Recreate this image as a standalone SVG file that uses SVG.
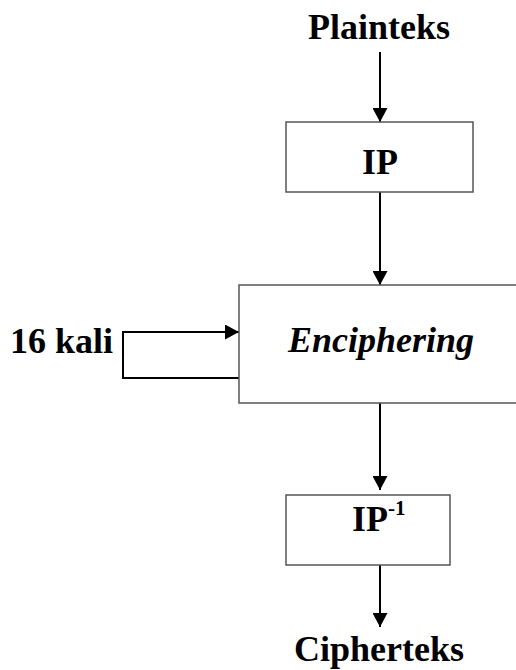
<svg xmlns="http://www.w3.org/2000/svg" width="516" height="670" viewBox="0 0 516 670">
<style>
.box{fill:#fff;stroke:#555;stroke-width:1.5}
.t{font-family:"Liberation Serif","Times New Roman",serif;font-weight:bold;font-size:36px;fill:#000}
.c{stroke:#000;stroke-width:2;fill:none}
</style>
<defs>
<marker id="ah" markerWidth="14" markerHeight="15" refX="14" refY="7.5" orient="auto" markerUnits="userSpaceOnUse">
<path d="M0,0 L14,7.5 L0,15 Z" fill="#000"/>
</marker>
</defs>
<rect width="516" height="670" fill="#fff"/>
<g id="connectors">
<line class="c" x1="380" y1="52" x2="380" y2="122" marker-end="url(#ah)"/>
<line class="c" x1="380" y1="192" x2="380" y2="285" marker-end="url(#ah)"/>
<polyline class="c" points="239,378 123,378 123,332 239,332" marker-end="url(#ah)"/>
<line class="c" x1="380" y1="403" x2="380" y2="490" marker-end="url(#ah)"/>
<line class="c" x1="380" y1="563" x2="380" y2="627" marker-end="url(#ah)"/>
</g>
<g id="plainteks"><text class="t" x="379" y="39" text-anchor="middle">Plainteks</text></g>
<g id="ip"><rect class="box" x="286" y="122" width="187" height="70"/><text class="t" x="380" y="174" text-anchor="middle">IP</text></g>
<g id="enciphering"><rect class="box" x="239" y="285" width="290" height="118"/><text class="t" x="381" y="352" text-anchor="middle" font-style="italic">Enciphering</text></g>
<g id="kali"><text class="t" x="10" y="353">16 kali</text></g>
<g id="ipinv"><rect class="box" x="286" y="495" width="164" height="70"/><text class="t" x="352" y="531">IP<tspan font-size="21" dy="-16">-1</tspan></text></g>
<g id="cipherteks"><text class="t" x="379" y="661" text-anchor="middle">Cipherteks</text></g>
</svg>
